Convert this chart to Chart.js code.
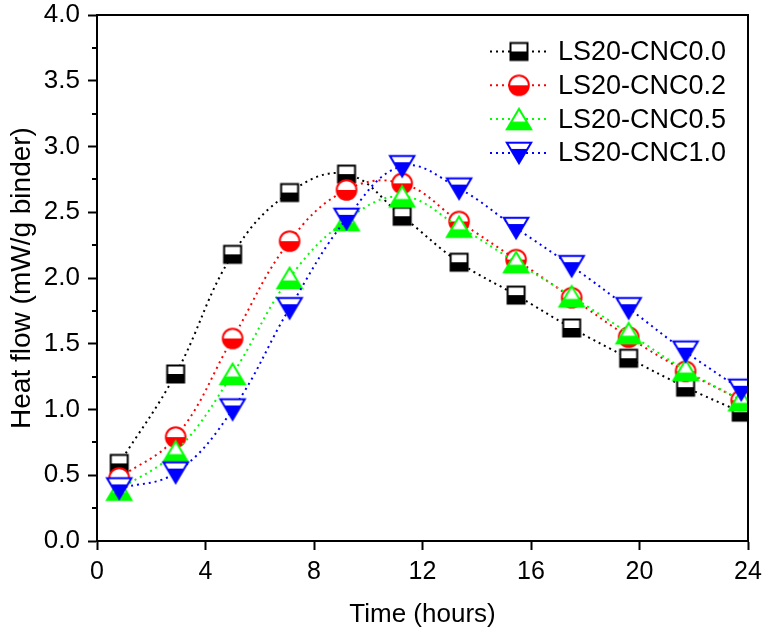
<!DOCTYPE html>
<html>
<head>
<meta charset="utf-8">
<script src="https://cdn.jsdelivr.net/npm/chart.js@4"></script>
<style>
  html, body { margin: 0; padding: 0; background: #fff; }
  #wrap { width: 766px; height: 636px; }
</style>
</head>
<body>
<div id="wrap"><canvas id="c" width="766" height="636"></canvas></div>
<script>
// ---- data ----
const times = [0.82, 2.9, 5.0, 7.1, 9.2, 11.25, 13.35, 15.45, 17.5, 19.6, 21.7, 23.75];
const cnc00 = [0.59, 1.27, 2.18, 2.65, 2.79, 2.47, 2.12, 1.87, 1.62, 1.39, 1.17, 0.98];
const cnc02 = [0.48, 0.79, 1.54, 2.28, 2.67, 2.72, 2.43, 2.14, 1.85, 1.55, 1.29, 1.07];
const cnc05 = [0.39, 0.68, 1.27, 2.00, 2.44, 2.62, 2.39, 2.12, 1.86, 1.58, 1.30, 1.07];
const cnc10 = [0.40, 0.52, 1.00, 1.77, 2.45, 2.85, 2.68, 2.38, 2.09, 1.77, 1.44, 1.15];
const seriesNames = ['LS20-CNC0.0', 'LS20-CNC0.2', 'LS20-CNC0.5', 'LS20-CNC1.0'];
const xTicks = [0, 4, 8, 12, 16, 20, 24];
const yTicks = [0, 0.5, 1.0, 1.5, 2.0, 2.5, 3.0, 3.5, 4.0];
const yMinorTicks = [0.25, 0.75, 1.25, 1.75, 2.25, 2.75, 3.25, 3.75];

const FONT = '"Liberation Sans", Arial, Helvetica, sans-serif';

// ---- half-filled marker images ----
function makeMarker(shape, color) {
  const s = 30;
  const cv = document.createElement('canvas');
  cv.width = s; cv.height = s;
  const g = cv.getContext('2d');
  const c = s / 2;
  const path = new Path2D();
  let split;
  if (shape === 'square') {
    const h = 8.5;
    path.rect(c - h, c - h, 2 * h, 2 * h);
    split = c;
  } else if (shape === 'circle') {
    path.arc(c, c, 9.8, 0, Math.PI * 2);
    split = c;
  } else if (shape === 'up') {
    const w = 12.2, hh = 10.3;
    path.moveTo(c, c - hh); path.lineTo(c + w, c + hh); path.lineTo(c - w, c + hh); path.closePath();
    split = c - hh + 0.62 * 2 * hh;
  } else {
    const w = 12.2, hh = 10.3;
    path.moveTo(c - w, c - hh); path.lineTo(c + w, c - hh); path.lineTo(c, c + hh); path.closePath();
    split = c - hh + 0.3 * 2 * hh;
  }
  g.fillStyle = '#fff';
  g.fill(path);
  g.save();
  g.beginPath(); g.rect(0, split, s, s - split); g.clip();
  g.fillStyle = color; g.fill(path);
  g.restore();
  g.lineWidth = 2; g.strokeStyle = color; g.lineJoin = 'miter';
  g.stroke(path);
  return cv;
}

const colors = ['#000000', '#ff0000', '#00ff00', '#0000ff'];
const shapes = ['square', 'circle', 'up', 'down'];
const values = [cnc00, cnc02, cnc05, cnc10];

const datasets = values.map((vals, i) => ({
  label: seriesNames[i],
  data: times.map((t, k) => ({ x: t, y: vals[k] })),
  borderColor: colors[i],
  backgroundColor: colors[i],
  borderWidth: 2,
  borderDash: [2, 4],
  tension: 0.4,
  pointStyle: makeMarker(shapes[i], colors[i]),
  pointRadius: 10,
  order: 4 - i
}));

// ---- plugins: frame, minor ticks, legend ----
const framePlugin = {
  id: 'frame',
  afterDraw(chart) {
    const { ctx, chartArea: a, scales } = chart;
    ctx.save();
    ctx.strokeStyle = '#000'; ctx.lineWidth = 2;
    ctx.beginPath();
    ctx.moveTo(a.left - 1, a.top); ctx.lineTo(a.right, a.top); ctx.lineTo(a.right, a.bottom + 1);
    ctx.stroke();
    // minor y ticks
    ctx.beginPath();
    yMinorTicks.forEach(v => {
      const y = Math.round(scales.y.getPixelForValue(v));
      ctx.moveTo(a.left - 5, y); ctx.lineTo(a.left, y);
    });
    ctx.stroke();
    ctx.restore();
  }
};

const legendPlugin = {
  id: 'customLegend',
  afterDraw(chart) {
    const ctx = chart.ctx;
    const x0 = 490, x1 = 547, mx = 519, tx = 558, y0 = 51.5, dy = 33.8;
    chart.data.datasets.forEach((ds, i) => {
      const y = y0 + i * dy;
      ctx.save();
      ctx.strokeStyle = ds.borderColor; ctx.lineWidth = 2; ctx.setLineDash([2, 4]);
      ctx.beginPath(); ctx.moveTo(x0, y); ctx.lineTo(x1, y); ctx.stroke();
      ctx.setLineDash([]);
      const img = ds.pointStyle;
      ctx.drawImage(img, mx - img.width / 2, y - img.height / 2);
      ctx.fillStyle = '#000'; ctx.font = '27px ' + FONT; ctx.textBaseline = 'middle';
      ctx.fillText(ds.label, tx, y + 1);
      ctx.restore();
    });
  }
};

new Chart(document.getElementById('c'), {
  type: 'line',
  data: { datasets },
  options: {
    responsive: false,
    animation: false,
    layout: { padding: { top: 15, right: 18, left: 0, bottom: 0 } },
    plugins: { legend: { display: false }, tooltip: { enabled: false } },
    scales: {
      x: {
        type: 'linear', min: 0, max: 24,
        afterBuildTicks(scale) { scale.ticks = xTicks.map(v => ({ value: v })); },
        afterFit(scale) { scale.height = 95; scale.paddingLeft = 0; scale.paddingRight = 0; },
        grid: { drawOnChartArea: false, drawTicks: true, tickLength: 9, tickWidth: 2, tickColor: '#000' },
        border: { display: true, width: 2, color: '#000' },
        ticks: { color: '#000', font: { family: FONT, size: 25 }, padding: 7, maxRotation: 0,
                 callback: v => String(v) },
        title: { display: true, text: 'Time (hours)', color: '#000', font: { family: FONT, size: 26 },
                 padding: { top: 0, bottom: 6 } }
      },
      y: {
        type: 'linear', min: 0, max: 4,
        afterBuildTicks(scale) { scale.ticks = yTicks.map(v => ({ value: v })); },
        afterFit(scale) { scale.width = 97; scale.paddingTop = 0; scale.paddingBottom = 0; },
        grid: { drawOnChartArea: false, drawTicks: true, tickLength: 9, tickWidth: 2, tickColor: '#000' },
        border: { display: true, width: 2, color: '#000' },
        ticks: { color: '#000', font: { family: FONT, size: 26 }, padding: 8,
                 callback: v => Number(v).toFixed(1) },
        title: { display: true, text: 'Heat flow (mW/g binder)', color: '#000', font: { family: FONT, size: 28 },
                 padding: { top: 5, bottom: 0 } }
      }
    }
  },
  plugins: [framePlugin, legendPlugin]
});
</script>
</body>
</html>
